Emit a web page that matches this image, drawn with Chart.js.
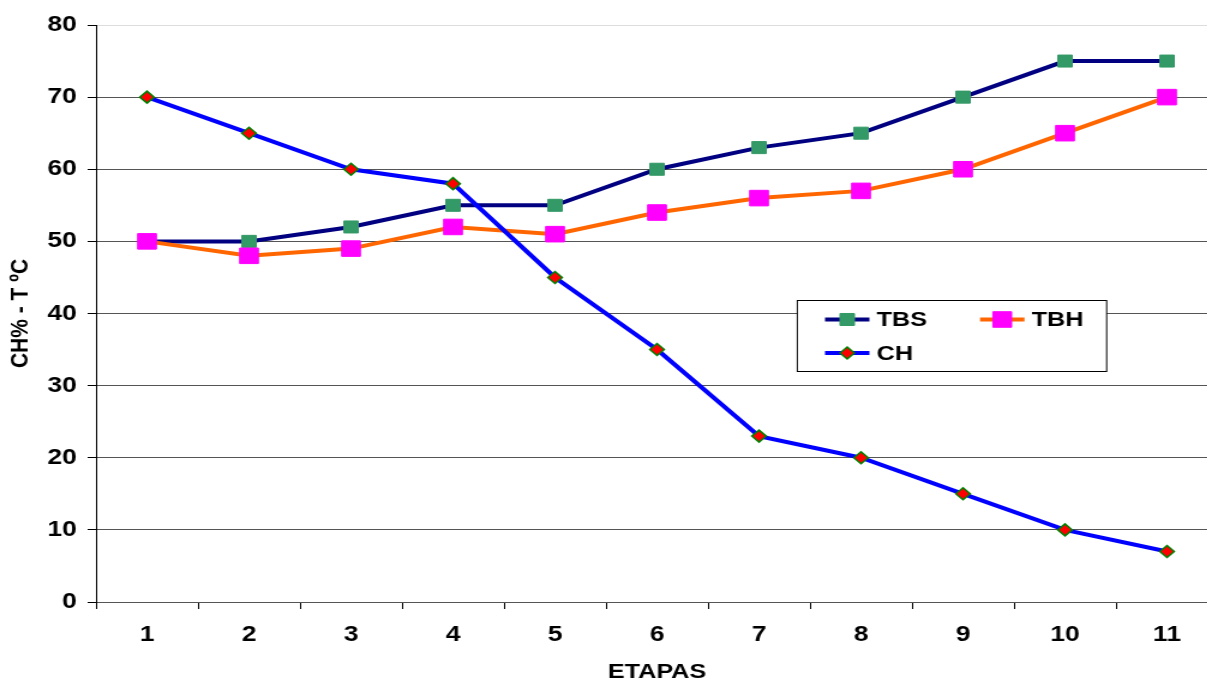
<!DOCTYPE html>
<html>
<head>
<meta charset="utf-8">
<script src="https://cdn.jsdelivr.net/npm/chart.js@4/dist/chart.umd.min.js"></script>
<style>
  html, body { margin: 0; padding: 0; background: #fff; overflow: hidden; }
  /* the original picture is stretched sideways, so the chart is too */
  #wrap { width: 1027px; height: 680px; transform: scaleX(1.2); transform-origin: 0 0; }
</style>
</head>
<body>
<div id="wrap"><canvas id="myChart" width="1027" height="680"></canvas></div>
<script>
var etapas = ['1', '2', '3', '4', '5', '6', '7', '8', '9', '10', '11'];
var tbs = [50, 50, 52, 55, 55, 60, 63, 65, 70, 75, 75];
var tbh = [50, 48, 49, 52, 51, 54, 56, 57, 60, 65, 70];
var ch = [70, 65, 60, 58, 45, 35, 23, 20, 15, 10, 7];

var FONT = 'Liberation Sans, Arial, sans-serif';

// legend box inside the plot, like the Excel original (canvas px, before stretch)
var boxLegend = {
	id: 'boxLegend',
	afterDraw: function(chart) {
		var ctx = chart.ctx;
		var ds = chart.data.datasets;
		var items = [
			{ ds: ds[0], x: 687.5, y: 319.5 },
			{ ds: ds[1], x: 816.7, y: 319.5 },
			{ ds: ds[2], x: 687.5, y: 353 }
		];
		ctx.save();
		ctx.fillStyle = '#fff';
		ctx.fillRect(664.4, 300.5, 257.8, 71);
		ctx.strokeStyle = '#000';
		ctx.lineWidth = 1;
		ctx.strokeRect(664.4, 300.5, 257.8, 71);
		items.forEach(function(it) {
			var d = it.ds;
			ctx.strokeStyle = d.borderColor;
			ctx.lineWidth = 4;
			ctx.beginPath();
			ctx.moveTo(it.x, it.y);
			ctx.lineTo(it.x + 37, it.y);
			ctx.stroke();
			ctx.fillStyle = d.pointBackgroundColor;
			ctx.strokeStyle = d.pointBorderColor;
			ctx.lineWidth = d.pointBorderWidth;
			Chart.helpers.drawPoint(ctx, {
				pointStyle: d.pointStyle,
				radius: d.pointRadius,
				borderWidth: d.pointBorderWidth,
				rotation: 0
			}, it.x + 18.5, it.y);
			ctx.fillStyle = '#000';
			ctx.font = 'bold 21px ' + FONT;
			ctx.textBaseline = 'middle';
			ctx.textAlign = 'left';
			ctx.fillText(d.label, it.x + 43, it.y + 1);
		});
		ctx.restore();
	}
};

var ctx = document.getElementById('myChart').getContext('2d');
var myChart = new Chart(ctx, {
	type: 'line',
	data: {
		labels: etapas,
		datasets: [
			{
				label: 'TBS',
				data: tbs,
				borderColor: '#000080',
				borderWidth: 4,
				pointStyle: 'rect',
				pointRadius: 8.5,
				pointBackgroundColor: '#339966',
				pointBorderColor: '#339966',
				pointBorderWidth: 1,
				order: 2
			},
			{
				label: 'TBH',
				data: tbh,
				borderColor: '#FF6600',
				borderWidth: 4,
				pointStyle: 'rect',
				pointRadius: 11,
				pointBackgroundColor: '#FF00FF',
				pointBorderColor: '#FF00FF',
				pointBorderWidth: 1,
				order: 1
			},
			{
				label: 'CH',
				data: ch,
				borderColor: '#0000FF',
				borderWidth: 4,
				pointStyle: 'rectRot',
				pointRadius: 6,
				pointBackgroundColor: '#FF0000',
				pointBorderColor: '#008000',
				pointBorderWidth: 1.5,
				order: 0
			}
		]
	},
	options: {
		responsive: false,
		devicePixelRatio: 1,
		animation: false,
		events: [],
		layout: { padding: { top: 25, right: 1, left: 0, bottom: 0 } },
		plugins: {
			legend: { display: false },
			tooltip: { enabled: false }
		},
		scales: {
			x: {
				offset: true,
				grid: {
					offset: true,
					drawOnChartArea: false,
					color: '#000',
					tickLength: 7
				},
				border: { color: '#555', width: 1 },
				ticks: {
					color: '#000',
					font: { family: FONT, size: 22, weight: 'bold' },
					padding: 13,
					maxRotation: 0
				},
				title: {
					display: true,
					text: 'ETAPAS',
					color: '#000',
					font: { family: FONT, size: 21, weight: 'bold', lineHeight: 1 },
					padding: { top: 4, bottom: -3 }
				},
				afterFit: function(scale) { scale.height = 78; }
			},
			y: {
				min: 0,
				max: 80,
				ticks: {
					stepSize: 10,
					color: '#000',
					font: { family: FONT, size: 22, weight: 'bold' },
					padding: 9
				},
				grid: {
					color: function(c) { return c.tick && c.tick.value === 80 ? '#ddd' : '#555'; },
					tickColor: '#000',
					tickLength: 7
				},
				border: { color: '#000', width: 1 },
				title: {
					display: true,
					text: 'CH% - T ºC',
					color: '#000',
					font: { family: FONT, size: 21, weight: 'bold', lineHeight: 1 },
					padding: { top: 7, bottom: 0 }
				},
				afterFit: function(scale) { scale.width = 80; }
			}
		}
	},
	plugins: [boxLegend]
});
</script>
</body>
</html>
